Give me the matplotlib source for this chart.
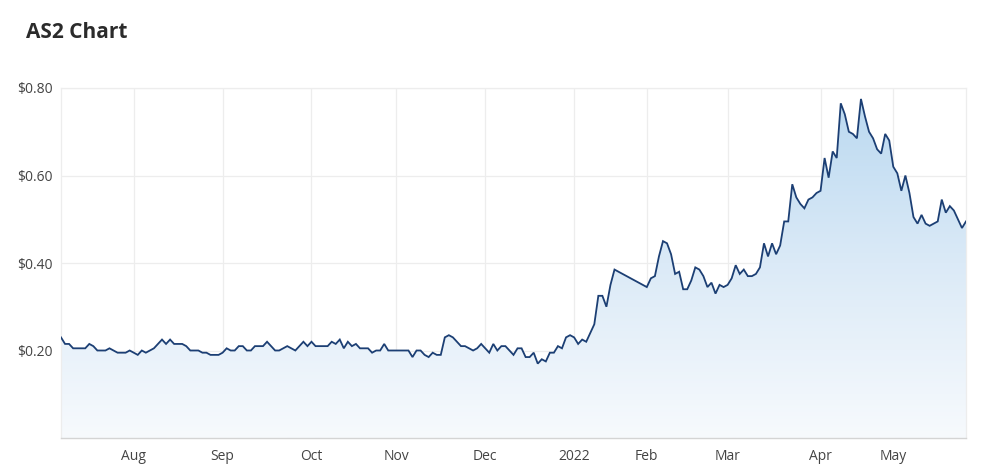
"""AS2 share price chart: daily closes Jul 2021 - May 2022, blue area under a navy line."""
import numpy as np
import matplotlib

matplotlib.use("Agg")
import matplotlib.pyplot as plt
from matplotlib.colors import LinearSegmentedColormap
from matplotlib.ticker import FuncFormatter

plt.rcParams["font.family"] = ["Open Sans", "DejaVu Sans"]

TITLE = "AS2 Chart"

# closing prices per trading session, before and after the late-January trading halt
PRE_HALT = [
    0.23, 0.215, 0.215, 0.205, 0.205, 0.205, 0.205, 0.215, 0.21, 0.20,
    0.20, 0.20, 0.205, 0.20, 0.195, 0.195, 0.195, 0.20, 0.195, 0.19,
    0.20, 0.195, 0.20, 0.205, 0.215, 0.225, 0.215, 0.225, 0.215, 0.215,
    0.215, 0.21, 0.20, 0.20, 0.20, 0.195, 0.195, 0.19, 0.19, 0.19,
    0.195, 0.205, 0.20, 0.20, 0.21, 0.21, 0.20, 0.20, 0.21, 0.21,
    0.21, 0.22, 0.21, 0.20, 0.20, 0.205, 0.21, 0.205, 0.20, 0.21,
    0.22, 0.21, 0.22, 0.21, 0.21, 0.21, 0.21, 0.22, 0.215, 0.225,
    0.205, 0.22, 0.21, 0.215, 0.205, 0.205, 0.205, 0.195, 0.20, 0.20,
    0.215, 0.20, 0.20, 0.20, 0.20, 0.20, 0.20, 0.185, 0.20, 0.20,
    0.19, 0.185, 0.195, 0.19, 0.19, 0.23, 0.235, 0.23, 0.22, 0.21,
    0.21, 0.205, 0.20, 0.205, 0.215, 0.205, 0.195, 0.215, 0.20, 0.21,
    0.21, 0.20, 0.19, 0.205, 0.205, 0.185, 0.185, 0.195, 0.17, 0.18,
    0.175, 0.195, 0.195, 0.21, 0.205, 0.23, 0.235, 0.23, 0.215, 0.225,
    0.22, 0.24, 0.26, 0.325, 0.325, 0.30, 0.35, 0.385,
]
POST_HALT = [
    0.345, 0.365, 0.37, 0.415, 0.45, 0.445, 0.42, 0.375, 0.38, 0.34,
    0.34, 0.36, 0.39, 0.385, 0.37, 0.345, 0.355, 0.33, 0.35, 0.345,
    0.35, 0.365, 0.395, 0.375, 0.385, 0.37, 0.37, 0.375, 0.39, 0.445,
    0.415, 0.445, 0.42, 0.44, 0.495, 0.495, 0.58, 0.55, 0.535, 0.525,
    0.545, 0.55, 0.56, 0.565, 0.64, 0.595, 0.655, 0.64, 0.765, 0.74,
    0.70, 0.695, 0.685, 0.775, 0.735, 0.70, 0.685, 0.66, 0.65, 0.695,
    0.68, 0.62, 0.605, 0.565, 0.60, 0.56, 0.505, 0.49, 0.51, 0.49,
    0.485, 0.49, 0.495, 0.545, 0.515, 0.53, 0.52, 0.50, 0.48, 0.495,
]
HALT_SESSIONS = 7

# trading sessions per month segment (first entry = July sessions shown)
MONTH_LABELS = ["Aug", "Sep", "Oct", "Nov", "Dec", "2022", "Feb", "Mar", "Apr", "May"]
SESSIONS_BEFORE = [18, 22, 22, 21, 22, 22, 18, 20, 23, 18]

Y_TICKS = [0.20, 0.40, 0.60, 0.80]

LINE_COLOR = "#1c3f74"
GRID_COLOR = "#ededed"


def main() -> None:
    n_pre = len(PRE_HALT)
    x = np.concatenate([
        np.arange(n_pre),
        np.arange(n_pre + HALT_SESSIONS, n_pre + HALT_SESSIONS + len(POST_HALT)),
    ])
    y = np.array(PRE_HALT + POST_HALT)
    month_pos = np.cumsum(SESSIONS_BEFORE)

    fig = plt.figure(figsize=(9.93, 4.75), dpi=100)
    ax = fig.add_axes([61 / 993, 37 / 475, 905 / 993, 350 / 475])

    ax.set_xlim(x[0], x[-1])
    ax.set_ylim(0, 0.80)

    # gradient fill clipped to the area under the line
    cmap = LinearSegmentedColormap.from_list("fill", ["#f7fafd", "#dbeaf7", "#b9d8f0"])
    grad = np.linspace(0, 1, 256).reshape(-1, 1)
    im = ax.imshow(grad, cmap=cmap, aspect="auto", origin="lower",
                   extent=[x[0], x[-1], 0, 0.80], zorder=1)
    poly = ax.fill_between(x, y, 0, color="none", linewidth=0)
    path = poly.get_paths()[0]
    im.set_clip_path(path, transform=ax.transData)

    ax.plot(x, y, color=LINE_COLOR, linewidth=1.3, zorder=3, solid_joinstyle="miter")

    ax.set_yticks(Y_TICKS)
    ax.yaxis.set_major_formatter(FuncFormatter(lambda v, _: f"${v:.2f}"))
    ax.set_xticks(month_pos)
    ax.set_xticklabels(MONTH_LABELS)

    ax.grid(True, color=GRID_COLOR, linewidth=0.9, zorder=0)
    ax.set_axisbelow(True)
    for side in ["top", "right", "left"]:
        ax.spines[side].set_color(GRID_COLOR)
        ax.spines[side].set_linewidth(0.9)
    ax.spines["bottom"].set_color("#d4d4d4")
    ax.spines["bottom"].set_linewidth(1.0)

    ax.tick_params(axis="y", length=0, pad=6, labelsize=10, labelcolor="#444444")
    ax.tick_params(axis="x", length=0, pad=8, labelsize=10, labelcolor="#444444")

    fig.text(26 / 993, 1 - 32 / 475, TITLE, fontsize=15, fontweight="bold",
             color="#2b2b2b", va="center", ha="left")

    fig.savefig("out.png", dpi=100)
    plt.close(fig)


if __name__ == "__main__":
    main()
